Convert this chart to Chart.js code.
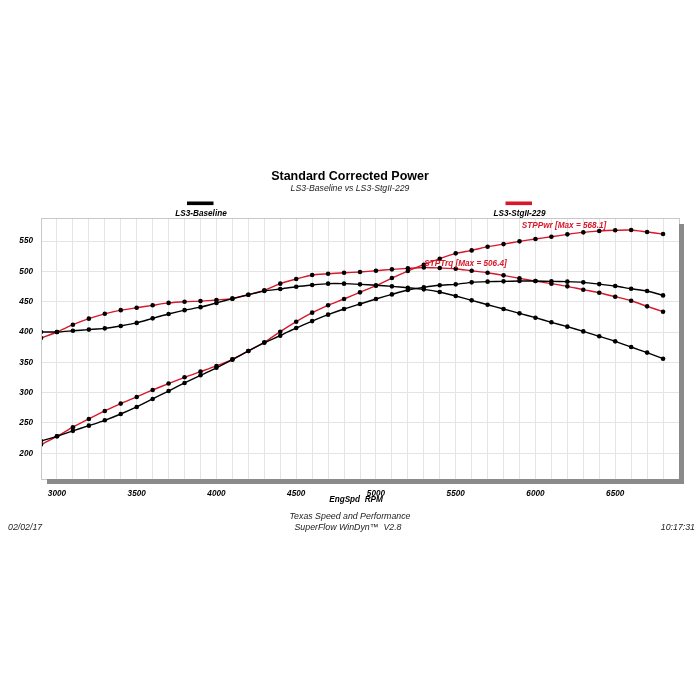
<!DOCTYPE html>
<html>
<head>
<meta charset="utf-8">
<script src="https://cdn.jsdelivr.net/npm/chart.js@4/dist/chart.umd.min.js"></script>
<style>
  html, body { margin: 0; padding: 0; background: #fff; }
  #wrap { width: 700px; height: 700px; }
</style>
</head>
<body>
<div id="wrap"><canvas id="c" width="700" height="700"></canvas></div>
<script>
// ---- data ----
const rpm = [2900,3000,3100,3200,3300,3400,3500,3600,3700,3800,3900,4000,4100,4200,4300,4400,4500,4600,4700,4800,
             4900,5000,5100,5200,5300,5400,5500,5600,5700,5800,5900,6000,6100,6200,6300,6400,6500,6600,6700,6800];

const baselineTorque = [400,400,402,404,406,410,415,422.5,429.7,436,441,448,455,461.5,467.6,470.9,474.7,477.5,479.7,479.7,
                        478.6,477,475.3,473,470.3,466,459.3,452.2,445,438,430.8,423.6,416,408.8,401,392.9,384.6,375.3,366,356];

const baselinePower = [220.3,228,237,245.6,254.4,264.8,276.4,289.6,302.7,316,328.6,341,354.4,368.7,382.4,394,406.6,418,428.6,437.9,
                       446.2,454.4,462,469.2,473.6,477,478.6,481.9,483,483.5,484,484,483.5,483,481.9,479,475.8,471.4,467.6,460.4];

const stageTorque = [390,400,412,422,430,436,440,444,448,450,451,452.7,455,461.5,468.7,479.7,487.4,494,496,497.8,
                     499,501,503.3,505,506.4,505.5,504.4,501,497.8,493.4,488.5,484,479.7,475.3,469.8,464.8,458.2,451.6,442.3,433.5];

const stagePower = [214.3,228,243,256.6,269.8,281.9,292.9,304.4,315,325.3,334.6,344,355,368.7,383,400.5,417,431.9,444,454.4,
                    465.4,476.4,489,500.5,511,520.9,529.7,534.6,540.7,545,549.5,553.3,557,561,564.3,566.5,567.8,568.1,564.8,561.5];

const yTicks = [200,250,300,350,400,450,500,550];
const xLabelTicks = [3000,3500,4000,4500,5000,5500,6000,6500];
const runNames = ["LS3-Baseline","LS3-StgII-229"];
const maxLabels = ["STPPwr [Max = 568.1]","STPTrq [Max = 506.4]"];

// ---- styles ----
const RED = '#d7182a';
const BLACK = '#000000';
const FONT = '"Liberation Sans", Arial, sans-serif';

function pts(ys){ return rpm.map((r,i)=>({x:r, y:ys[i]})); }

function ds(label, ys, color){
  return {
    label, data: pts(ys),
    borderColor: color, borderWidth: 1.4,
    pointBackgroundColor: '#000', pointBorderColor: '#000',
    pointRadius: 2.3, pointBorderWidth: 0,
    tension: 0.2, fill: false
  };
}

const decor = {
  id: 'decor',
  beforeDraw(chart){
    const {ctx} = chart;
    ctx.save();
    ctx.fillStyle = '#fff';
    ctx.fillRect(0,0,chart.width,chart.height);
    ctx.restore();
  },
  afterDraw(chart){
    const {ctx, chartArea: a} = chart;
    const xs = chart.scales.x, ys = chart.scales.y;
    ctx.save();
    // frame
    ctx.strokeStyle = '#c8c8c8';
    ctx.lineWidth = 1;
    ctx.strokeRect(a.left+0.5, a.top+0.5, a.right-a.left, a.bottom-a.top);
    // drop shadow
    ctx.fillStyle = '#8a8a8a';
    ctx.fillRect(a.left+6, a.bottom, a.right-a.left-1, 5);
    ctx.fillRect(a.right, a.top+6, 5, a.bottom-a.top-1);

    ctx.textAlign = 'center';
    ctx.textBaseline = 'alphabetic';
    // title
    ctx.fillStyle = '#000';
    ctx.font = 'bold 12.5px ' + FONT;
    ctx.fillText('Standard Corrected Power', 350, 180);
    ctx.font = 'italic 8.7px ' + FONT;
    ctx.fillStyle = '#222';
    ctx.fillText(runNames[0] + ' vs ' + runNames[1], 350, 190.5);

    // legend
    ctx.fillStyle = BLACK;
    ctx.fillRect(187, 201.5, 26.5, 3.6);
    ctx.fillStyle = RED;
    ctx.fillRect(505.5, 201.5, 26.5, 3.6);
    ctx.fillStyle = '#000';
    ctx.font = 'bold italic 8.2px ' + FONT;
    ctx.fillText(runNames[0], 201, 216);
    ctx.fillText(runNames[1], 519.5, 216);

    // max annotations
    ctx.fillStyle = RED;
    ctx.font = 'bold italic 8.2px ' + FONT;
    ctx.fillText(maxLabels[0], 564, 228);
    ctx.fillText(maxLabels[1], 465.5, 265.5);

    // axis title
    ctx.fillStyle = '#000';
    ctx.font = 'bold italic 8.2px ' + FONT;
    ctx.fillText('EngSpd  RPM', 356, 502);

    // footer
    ctx.fillStyle = '#222';
    ctx.font = 'italic 8.8px ' + FONT;
    ctx.fillText('Texas Speed and Performance', 350, 519);
    ctx.fillText('SuperFlow WinDyn\u2122  V2.8', 348, 530);
    ctx.textAlign = 'left';
    ctx.fillText('02/02/17', 8, 530);
    ctx.textAlign = 'right';
    ctx.fillText('10:17:31', 695, 530);
    ctx.restore();
  }
};

new Chart(document.getElementById('c'), {
  type: 'line',
  data: {
    datasets: [
      ds('Baseline STPTrq', baselineTorque, BLACK),
      ds('Baseline STPPwr', baselinePower, BLACK),
      ds('StgII STPTrq', stageTorque, RED),
      ds('StgII STPPwr', stagePower, RED)
    ]
  },
  options: {
    responsive: false,
    animation: false,
    devicePixelRatio: 1,
    layout: { padding: { top: 218, right: 21, bottom: 0, left: 0 } },
    plugins: { legend: { display: false }, title: { display: false }, tooltip: { enabled: false } },
    scales: {
      x: {
        type: 'linear',
        min: 2900, max: 6900,
        afterBuildTicks(scale){
          const t = [];
          for (let v = 2900; v <= 6900; v += 100) t.push({value: v});
          scale.ticks = t;
        },
        afterFit(scale){ scale.height = 221; },
        grid: { color: '#e4e4e4', lineWidth: 1, drawTicks: false },
        border: { display: false },
        ticks: {
          autoSkip: false, maxRotation: 0, padding: 10,
          color: '#000',
          font: { family: FONT, size: 8.2, style: 'italic', weight: 'bold' },
          callback(v){ return xLabelTicks.includes(v) ? String(v) : ''; }
        }
      },
      y: {
        min: 157.6, max: 588,
        afterBuildTicks(scale){ scale.ticks = yTicks.map(v=>({value:v})); },
        afterFit(scale){ scale.width = 41; },
        grid: { color: '#e4e4e4', lineWidth: 1, drawTicks: false },
        border: { display: true, color: '#b8b8b8' },
        ticks: {
          padding: 8, color: '#000',
          font: { family: FONT, size: 8.2, style: 'italic', weight: 'bold' }
        }
      }
    }
  },
  plugins: [decor]
});
</script>
</body>
</html>
